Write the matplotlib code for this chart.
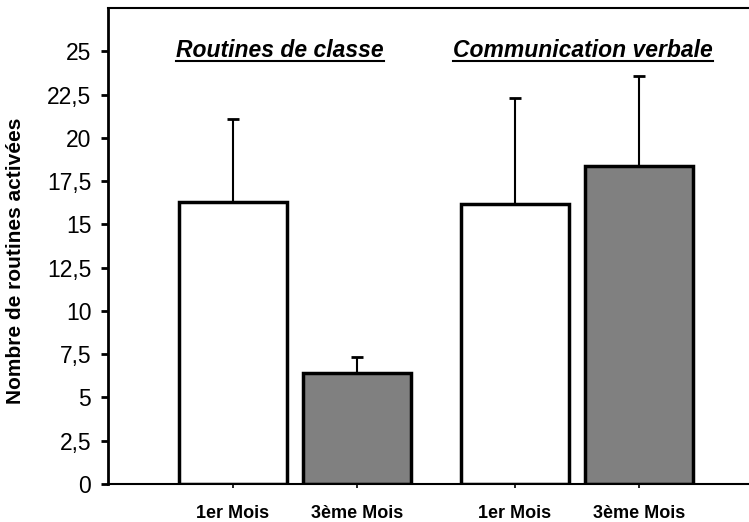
import matplotlib
matplotlib.use("Agg")
import matplotlib.pyplot as plt
import numpy as np

plt.rcParams['font.family'] = ['Liberation Sans', 'DejaVu Sans']

# data
groups = ["Routines de classe", "Communication verbale"]
tick_labels = ["1er Mois", "3ème Mois", "1er Mois", "3ème Mois"]
values = [16.3, 6.42, 16.15, 18.4]
err_up = [4.8, 0.9, 6.15, 5.2]
colors = ["white", "#808080", "white", "#808080"]
positions = [0, 1.15, 2.61, 3.76]

fig = plt.figure(figsize=(7.49, 5.22), dpi=100)
ax = fig.add_axes([108/749, 1-484/522, 1-108/749, (484-8)/522])

ax.bar(positions, values, width=1.0, color=colors, edgecolor="black", linewidth=2.5, zorder=2)
ax.errorbar(positions, values, yerr=[np.zeros(4), err_up], fmt="none",
            ecolor="black", elinewidth=1.5, capsize=4, capthick=2, zorder=1)

ax.set_ylim(0, 27.5)
ax.set_xlim(-1.157, 4.78)
yt = np.arange(0, 25.1, 2.5)
ax.set_yticks(yt)
ax.set_yticklabels([("%g" % v).replace(".", ",") for v in yt], fontsize=16.5)
ax.set_xticks(positions)
ax.set_xticklabels(tick_labels, fontsize=13, fontweight="bold")
ax.tick_params(axis="y", direction="out", length=5, width=2, pad=7)
ax.tick_params(axis="x", direction="out", length=3, width=1.2, pad=12)

ax.spines["right"].set_visible(False)
ax.spines["left"].set_linewidth(2)
ax.spines["top"].set_linewidth(1.5)
ax.spines["bottom"].set_linewidth(1.5)

ax.set_ylabel("Nombre de routines activées", fontsize=15, fontweight="bold")
ax.yaxis.set_label_coords(-0.1295, 0.468)

# group titles, underlined
title_x = [0.435, 3.24]
texts = []
for gx, g in zip(title_x, groups):
    t = ax.text(gx, 24.67, g, fontsize=16.5, fontweight="bold", fontstyle="italic",
                ha="center", va="baseline")
    texts.append(t)

fig.canvas.draw()
r = fig.canvas.get_renderer()
for t in texts:
    bb = t.get_window_extent(renderer=r)
    y = bb.y0 + 1
    fig.add_artist(plt.Line2D([bb.x0 / fig.dpi / 7.49, bb.x1 / fig.dpi / 7.49],
                              [y / fig.dpi / 5.22, y / fig.dpi / 5.22],
                              color="black", linewidth=1.5))

fig.savefig("out.png", dpi=100)
